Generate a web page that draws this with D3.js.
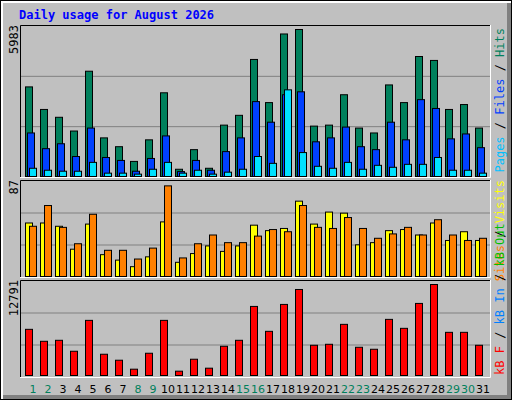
<!DOCTYPE html><html><head><meta charset="utf-8">
<script src="https://cdn.jsdelivr.net/npm/d3@7"></script>
<style>body{margin:0;background:#fff}svg{display:block}</style></head><body>
<script>
const days=d3.range(1,32);
const weekend=[1,2,8,9,15,16,22,23,29,30];
const hits=[3647,2729,2410,1851,4285,1572,1213,614,1492,3407,295,1093,335,2091,2490,4764,3008,5801,5983,2051,2091,3328,1971,1772,3727,3008,4884,4724,2729,2929,1971];
const files=[1772,1133,1333,814,1971,774,654,215,734,1652,200,654,255,1013,1572,3048,2210,3328,3447,1412,1572,2011,1213,1093,2210,1492,3128,2769,1532,1732,1173];
const pages=[335,255,215,214,575,136,136,96,295,575,136,255,96,176,295,814,535,3527,974,415,335,575,295,455,375,495,495,774,255,255,136];
const visits=[49,49,46,25,48,20,15,9,18,50,13,21,28,23,28,47,42,44,69,48,59,58,29,31,42,43,38,49,33,41,33];
const sites=[46,65,45,30,57,24,24,16,26,83,17,30,38,31,31,37,43,41,65,45,44,54,44,35,39,45,38,52,38,33,35];
const kbytes=[6489,4808,4948,3408,7749,2988,2147,887,3128,7749,607,2287,1027,4108,4948,9709,6208,9990,12090,4248,4388,7189,3968,3688,7889,6629,10130,12791,6068,6068,4248];
const maxHits=5983,maxSites=87,maxKB=12791;

const W=512,H=400,mono="'DejaVu Sans Mono','Liberation Mono',monospace";
const svg=d3.select("body").append("svg").attr("width",W).attr("height",H);
svg.append("rect").attr("width",W).attr("height",H).attr("fill","#000");
svg.append("rect").attr("x",1).attr("y",1).attr("width",W-2).attr("height",H-2).attr("fill","#fff");
svg.append("rect").attr("x",3).attr("y",3).attr("width",W-4).attr("height",H-4).attr("fill","#808080");
svg.append("rect").attr("x",3).attr("y",3).attr("width",W-8).attr("height",H-8).attr("fill","#c0c0c0");
svg.append("text").attr("x",19).attr("y",19).attr("font-family",mono).attr("font-weight","bold").attr("font-size",12).attr("fill","#0000ff").text("Daily usage for August 2026");

const x=d3.scaleBand().domain(days).range([25,490]).paddingInner(0).paddingOuter(0);
function panel(y0,y1){
  svg.append("rect").attr("x",20).attr("y",y0).attr("width",471).attr("height",y1-y0).attr("fill","#c0c0c0");
  const h=(y1-y0-2);
  [1,2].forEach(i=>svg.append("line").attr("x1",21).attr("x2",490).attr("y1",y0+1+h*i/3).attr("y2",y0+1+h*i/3).attr("stroke","#808080"));
  svg.append("path").attr("d",`M20.5,${y1}V${y0+.5}H491`).attr("fill","none").attr("stroke","#000");
  svg.append("path").attr("d",`M20,${y1-.5}H490.5V${y0}`).attr("fill","none").attr("stroke","#fff");
}
function bars(data,y,off,w,col,base){
  svg.append("g").selectAll("rect").data(data).join("rect")
   .attr("x",(d,i)=>x(days[i])+off+.5).attr("y",d=>y(d)+.5).attr("width",w).attr("height",d=>base-y(d))
   .attr("fill",col).attr("stroke","#000").attr("stroke-width",1);
}
panel(25,178);panel(180,278);panel(280,378);
const yT=d3.scaleLinear().domain([0,maxHits]).range([176,29]);
bars(hits,yT,0,7,"#00805c",176);bars(files,yT,2,7,"#0040ff",176);bars(pages,yT,4,7,"#00e0ff",176);
const yM=d3.scaleLinear().domain([0,maxSites]).range([276,181]);
bars(visits,yM,0,7,"#ffff00",276);bars(sites,yM,4,7,"#ff8000",276);
const yB=d3.scaleLinear().domain([0,maxKB]).range([375,284]);
bars(kbytes,yB,0,7,"#ff0000",375);

function vlabel(xp,yp,parts,anchor){
  const t=svg.append("text").attr("transform",`translate(${xp},${yp}) rotate(-90)`).attr("font-family",mono).attr("font-size",12).attr("text-anchor",anchor);
  parts.forEach(p=>t.append("tspan").attr("fill",p[1]).text(p[0]));
}
vlabel(18,25,[[String(maxHits),"#000"]],"end");
vlabel(18,180,[[String(maxSites),"#000"]],"end");
vlabel(18,280,[[String(maxKB),"#000"]],"end");
vlabel(504,28,[["Pages","#00c0ff"],[" / ","#000"],["Files","#0040ff"],[" / ","#000"],["Hits","#00805c"]],"end");
vlabel(504,180,[["Sites","#ff8000"],[" / ","#000"],["Visits","#ffff00"]],"end");
vlabel(504,375,[["kB F","#ff0000"],[" / ","#000"],["kB In","#0080ff"],[" / ","#000"],["kB Out","#00c000"]],"start");

svg.append("g").selectAll("text").data(days).join("text")
 .attr("x",d=>x(d)+8).attr("y",393).attr("text-anchor","middle").attr("font-family","'DejaVu Sans',sans-serif").attr("font-size",11)
 .attr("fill",d=>weekend.includes(d)?"#00805c":"#000").text(d=>d);
</script></body></html>
